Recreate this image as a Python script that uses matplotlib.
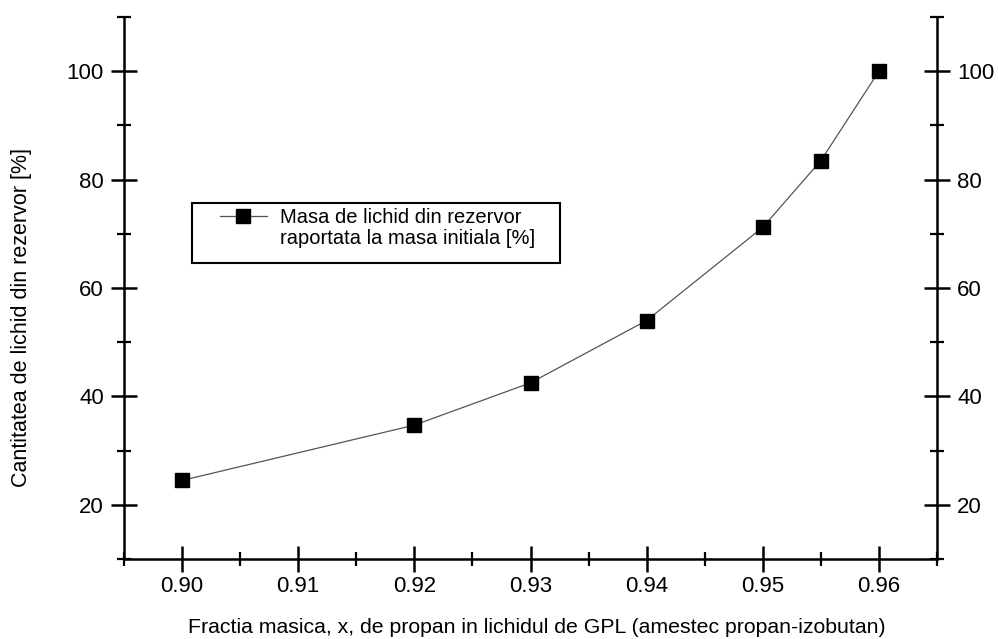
import matplotlib
matplotlib.use("Agg")
import matplotlib.pyplot as plt
from matplotlib.lines import Line2D
from matplotlib.patches import Rectangle
from matplotlib.ticker import MultipleLocator

plt.rcParams['font.family'] = ['Liberation Sans', 'DejaVu Sans']

# data
fractia = [0.90, 0.92, 0.93, 0.94, 0.95, 0.955, 0.96]
masa = [24.5, 34.7, 42.5, 54.0, 71.2, 83.5, 100.0]

x_ticks = [0.90, 0.91, 0.92, 0.93, 0.94, 0.95, 0.96]
x_ticklabels = ["0.90", "0.91", "0.92", "0.93", "0.94", "0.95", "0.96"]
y_ticks = [20, 40, 60, 80, 100]

legend_lines = ["Masa de lichid din rezervor", "raportata la masa initiala [%]"]

fig = plt.figure(figsize=(9.98, 6.39), dpi=100)
ax = fig.add_axes([124 / 998, 80 / 639, 813 / 998, 542 / 639])

line, = ax.plot(fractia, masa, color="#555555", linewidth=0.9,
                marker="s", markersize=10, markerfacecolor="black",
                markeredgecolor="black")

ax.set_xlim(0.895, 0.965)
ax.set_ylim(10, 110)
ax.set_xticks(x_ticks)
ax.set_xticklabels(x_ticklabels)
ax.set_yticks(y_ticks)
ax.xaxis.set_minor_locator(MultipleLocator(0.005))
ax.yaxis.set_minor_locator(MultipleLocator(10))

# Origin style frame: no top spine, crossing ticks, labels on both sides
ax.spines['top'].set_visible(False)
for s in ['left', 'right', 'bottom']:
    ax.spines[s].set_linewidth(1.8)

ax.tick_params(which='major', direction='inout', length=19, width=1.8,
               labelsize=16, left=True, right=True, labelright=True)
ax.tick_params(which='minor', direction='inout', length=10, width=1.6,
               left=True, right=True)
ax.tick_params(axis='x', pad=3)
ax.tick_params(axis='y', pad=5)

ax.set_xlabel("Fractia masica, x, de propan in lichidul de GPL (amestec propan-izobutan)",
              fontsize=15.3)
ax.set_ylabel("Cantitatea de lichid din rezervor [%]", fontsize=15.5)
ax.xaxis.set_label_coords(0.508, -0.108)
ax.yaxis.set_label_coords(-0.113, 0.445)

# legend: marker on the first line, second line continues below
blank = Line2D([], [], linestyle='none')
leg = ax.legend([line, blank], legend_lines, loc="upper left",
                bbox_to_anchor=(0.118, 0.648), fontsize=14.5, frameon=False,
                handlelength=2.33, handletextpad=0.65, borderpad=0,
                borderaxespad=0, labelspacing=0.12)
ax.add_patch(Rectangle((0.0836, 0.546), 0.4526, 0.111, transform=ax.transAxes,
                       fill=False, edgecolor="black", linewidth=1.5,
                       zorder=5))

fig.savefig("out.png", dpi=100)
